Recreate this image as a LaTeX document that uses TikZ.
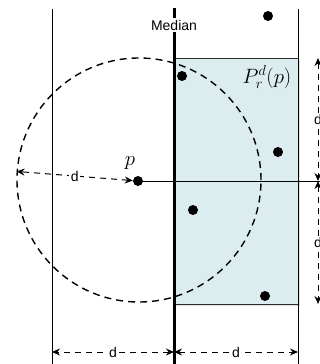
\documentclass[tikz,border=0pt]{standalone}
\usepackage{fontspec}
\setsansfont{Liberation Sans}
\usetikzlibrary{arrows.meta, positioning, calc, shadows}
\definecolor{medFill}{RGB}{220,237,240}
\definecolor{medEdge}{RGB}{40,45,45}

\begin{document}
\begin{tikzpicture}[
    x=1pt, y=-1pt,
    dot/.style={circle, fill=black, inner sep=0pt, minimum size=10pt},
    cellbox/.style={draw=medEdge, fill=medFill, rectangle, inner sep=0pt, line width=1pt, minimum width=124pt, minimum height=246pt, drop shadow={opacity=0.25, shadow xshift=2pt, shadow yshift=-2pt}},
    ballbox/.style={draw, circle, dash pattern=on 7pt off 5pt, line width=1.4pt, inner sep=0pt, minimum size=244pt},
    wall/.style={line width=1pt},
    median/.style={line width=3pt},
    dimarrow/.style={{Stealth[length=8pt, width=7pt]}-{Stealth[length=8pt, width=7pt]}, dash pattern=on 6pt off 5pt, line width=1pt},
    dimlabel/.style={fill=white, inner sep=1.5pt, font=\sffamily\fontsize{14}{16}\selectfont},
    mathlabel/.style={inner sep=0pt, font=\fontsize{20}{24}\selectfont}
]
\useasboundingbox (0,0) rectangle (320,364);

% Half-plane cell right of the median
\node (cell) [cellbox] at (236,181) {};

% Vertical walls
\coordinate (leftTop) at (52,9);
\coordinate (leftBot) at (52,364);
\coordinate (medTop) at (174,8);
\coordinate (medBot) at (174,364);
\coordinate (rightTop) at (298,9);
\coordinate (rightBot) at (298,364);
\draw [wall] (leftTop) -- (leftBot);
\draw [wall] (rightTop) -- (rightBot);

% Query ball around p
\node (ball) [ballbox] at (139,180) {};
\draw [median] (medTop) -- (medBot);
\node (medianlabel) [dimlabel] at (174,25) {Median};

% Points
\node (p) [dot] at (138,181) {};
\node (q1) [dot] at (182,76) {};
\node (q2) [dot] at (268,16) {};
\node (q3) [dot] at (278,152) {};
\node (q4) [dot] at (193,210) {};
\node (q5) [dot] at (265,296) {};

% Labels
\node (plabel) [mathlabel, above=6pt of p, xshift=-8pt] {$p$};
\node (celllabel) [mathlabel, below left=8pt and 7pt of cell.north east] {$P_r^d(p)$};

% Horizontal split through p
\coordinate (rimR) at (322,181);
\draw [wall] (p) -- (rimR);

% Radius of the ball
\draw [dimarrow] (p) -- node [dimlabel] {d} (ball.176);

% Bottom dimensions
\coordinate (dimL) at (52,352);
\coordinate (dimM) at (174,352);
\coordinate (dimR) at (298,352);
\draw [dimarrow] (dimM) -- node [dimlabel] {d} (dimL);
\draw [dimarrow] (dimM) -- node [dimlabel] {d} (dimR);

% Right dimensions
\coordinate (sideTop) at (318,58);
\coordinate (sideMid) at (318,181);
\coordinate (sideBot) at (318,304);
\draw [dimarrow] (sideTop) -- node [dimlabel] {d} (sideMid);
\draw [dimarrow] (sideMid) -- node [dimlabel] {d} (sideBot);

\end{tikzpicture}
\end{document}
